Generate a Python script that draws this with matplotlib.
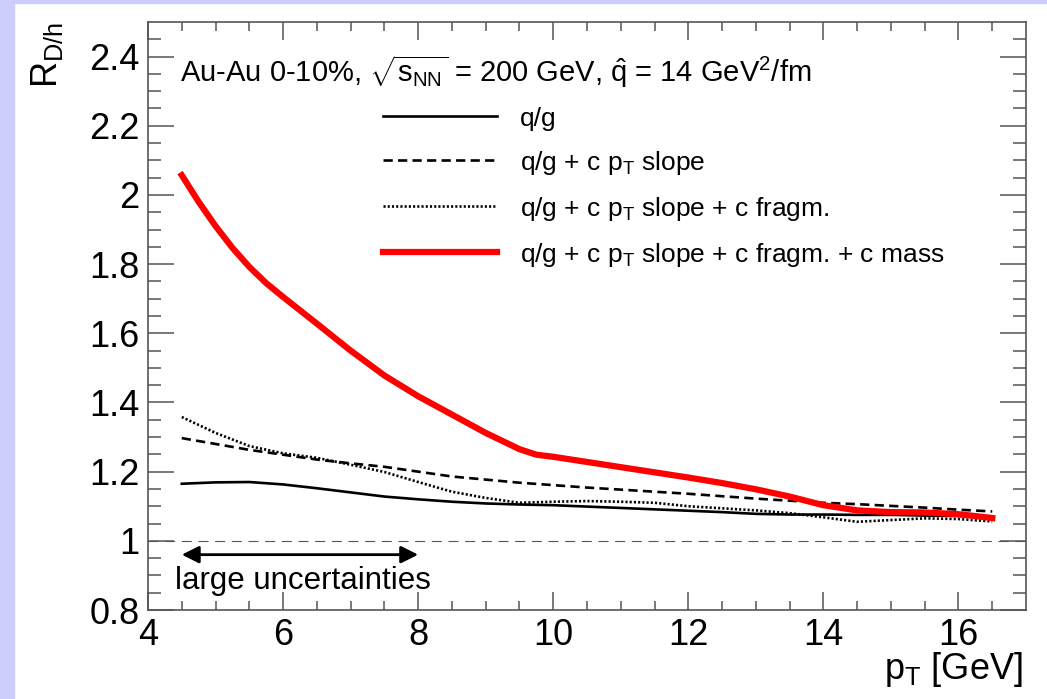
import matplotlib
matplotlib.use("Agg")
import matplotlib.pyplot as plt
from matplotlib.patches import Rectangle

plt.rcParams['font.family'] = ['Liberation Sans', 'DejaVu Sans']
plt.rcParams['mathtext.fontset'] = 'custom'
plt.rcParams['mathtext.rm'] = 'Liberation Sans'
plt.rcParams['mathtext.it'] = 'Liberation Sans'
plt.rcParams['mathtext.sf'] = 'Liberation Sans'

# pT grid [GeV]
pt = [4.5, 5.0, 5.5, 6.0, 6.5, 7.0, 7.5, 8.0, 8.5, 9.0, 9.5, 10.0, 10.5,
      11.0, 11.5, 12.0, 12.5, 13.0, 13.5, 14.0, 14.5, 15.0, 15.5, 16.0, 16.5]

# R_D/h for the four scenarios
r_qg = [1.165, 1.169, 1.170, 1.163, 1.152, 1.140, 1.128, 1.120, 1.113, 1.108, 1.105, 1.103, 1.099,
        1.095, 1.091, 1.087, 1.083, 1.078, 1.076, 1.076, 1.075, 1.075, 1.073, 1.072, 1.070]
r_slope = [1.297, 1.280, 1.263, 1.249, 1.235, 1.224, 1.214, 1.200, 1.186, 1.177, 1.168, 1.161, 1.154,
           1.148, 1.142, 1.136, 1.129, 1.122, 1.116, 1.110, 1.106, 1.101, 1.096, 1.090, 1.085]
r_fragm = [1.358, 1.312, 1.274, 1.253, 1.240, 1.220, 1.199, 1.170, 1.142, 1.124, 1.110, 1.113, 1.115,
           1.113, 1.110, 1.100, 1.094, 1.088, 1.080, 1.068, 1.055, 1.060, 1.065, 1.063, 1.056]

# charm mass curve, read on a finer grid where it bends
pt_mass = [4.5, 4.75, 5.0, 5.25, 5.5, 5.75, 6.0, 6.5, 7.0, 7.5, 8.0, 8.5, 9.0, 9.5, 9.75,
           10.0, 10.5, 11.0, 11.5, 12.0, 12.5, 13.0, 13.5, 14.0, 14.5, 15.0, 15.5, 16.0, 16.5]
r_mass = [2.057, 1.980, 1.910, 1.847, 1.792, 1.745, 1.705, 1.628, 1.550, 1.478, 1.418, 1.365,
          1.312, 1.265, 1.249, 1.243, 1.228, 1.213, 1.198, 1.183, 1.167, 1.149, 1.128, 1.103,
          1.088, 1.083, 1.082, 1.077, 1.066]

labels = ['q/g',
          r'q/g + c p$_{\mathrm{T}}$ slope',
          r'q/g + c p$_{\mathrm{T}}$ slope + c fragm.',
          r'q/g + c p$_{\mathrm{T}}$ slope + c fragm. + c mass']

fig = plt.figure(figsize=(10.47, 6.99), dpi=100)
# lavender frame strips
fig.patches.append(Rectangle((0, 0), 14 / 1047, 1, transform=fig.transFigure,
                             color='#cdcdfb', zorder=-10))
fig.patches.append(Rectangle((0, 1 - 3 / 699), 1, 3 / 699, transform=fig.transFigure,
                             color='#cdcdfb', zorder=-10))

ax = fig.add_axes([148 / 1047, 1 - 610 / 699, 878 / 1047, 588 / 699])

ax.axhline(1.0, color='#555555', lw=0.8, linestyle=(0, (9, 6)), zorder=1)

ax.plot(pt, r_qg, color='black', lw=1.9, label=labels[0])
ax.plot(pt, r_slope, color='black', lw=1.9, linestyle=(0, (3.5, 2)), label=labels[1])
ax.plot(pt, r_fragm, color='black', lw=1.9, linestyle=(0, (0.8, 0.8)), label=labels[2])
ax.plot(pt_mass, r_mass, color='#ff0000', lw=4.5, label=labels[3], zorder=5,
        solid_joinstyle='round')

ax.set_xlim(4, 17)
ax.set_ylim(0.8, 2.5)
ax.set_xticks([4, 6, 8, 10, 12, 14, 16])
ax.set_xticks([x / 2 for x in range(8, 34)], minor=True)
ax.set_yticks([0.8, 1.0, 1.2, 1.4, 1.6, 1.8, 2.0, 2.2, 2.4])
ax.set_yticklabels(['0.8', '1', '1.2', '1.4', '1.6', '1.8', '2', '2.2', '2.4'])
ax.set_yticks([0.8 + 0.05 * i for i in range(34)], minor=True)

ax.tick_params(axis='both', which='both', direction='in', top=True, right=True,
               color='#555555', width=1.1, labelsize=26, pad=6)
ax.tick_params(axis='y', which='major', length=19)
ax.tick_params(axis='y', which='minor', length=9.5)
ax.tick_params(axis='x', which='major', length=13)
ax.tick_params(axis='x', which='minor', length=6.5)
for s in ax.spines.values():
    s.set_color('#555555')
    s.set_linewidth(1.2)

ax.set_xlabel(r'p$_{\mathrm{T}}$ [GeV]', fontsize=26, loc='right')
ax.xaxis.set_label_coords(0.996, -0.068)
ax.set_ylabel(r'R$_{\mathrm{D/h}}$', fontsize=26, loc='top')
ax.yaxis.set_label_coords(-0.094, 1.0)

ax.text(0.036, 0.898,
        r'Au-Au 0-10%, $\sqrt{\mathrm{s}_{\mathrm{NN}}}$ = 200 GeV, $\hat{\mathrm{q}}$ = 14 GeV$^{2}$/fm',
        transform=ax.transAxes, fontsize=21, va='baseline', ha='left')

ax.legend(loc='upper left', bbox_to_anchor=(0.268, 0.856), frameon=False,
          fontsize=19, handlelength=4.3, handletextpad=0.87, labelspacing=0.68,
          borderpad=0, borderaxespad=0)

ax.annotate('', xy=(4.5, 0.96), xytext=(8.0, 0.96),
            arrowprops=dict(arrowstyle='<|-|>', color='black', lw=2,
                            mutation_scale=26, shrinkA=0, shrinkB=0))
ax.text(4.4, 0.86, 'large uncertainties', fontsize=22.5, va='baseline', ha='left')

fig.savefig('out.png', dpi=100, facecolor='white')
